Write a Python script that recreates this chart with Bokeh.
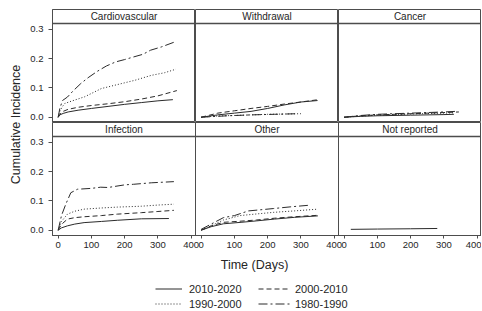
import math
import numpy as np
from bokeh.plotting import figure
from bokeh.models import (Range1d, FixedTicker, PrintfTickFormatter, Span, Label,
                          Legend, LegendItem)
from bokeh.layouts import row, column
from bokeh.embed import file_html
from bokeh.resources import INLINE

# ---------------- data ----------------
DECADES = ["2010-2020", "2000-2010", "1990-2000", "1980-1990"]
X_TICKS = [0, 100, 200, 300, 400]
Y_TICKS = [0.0, 0.1, 0.2, 0.3]

CARDIO_T_2010 = [0, 5, 15, 30, 60, 100, 150, 200, 250, 300, 345]
CARDIO_V_2010 = [0, 0.008, 0.013, 0.018, 0.024, 0.030, 0.037, 0.044, 0.050, 0.056, 0.060]
CARDIO_T_2000 = [0, 5, 15, 30, 60, 100, 150, 200, 250, 300, 357]
CARDIO_V_2000 = [0, 0.010, 0.020, 0.027, 0.034, 0.040, 0.046, 0.053, 0.062, 0.073, 0.091]
CARDIO_T_1990 = [0, 5, 12, 20, 40, 80, 130, 180, 230, 280, 320, 354]
CARDIO_V_1990 = [0, 0.020, 0.035, 0.047, 0.055, 0.070, 0.098, 0.112, 0.126, 0.143, 0.152, 0.164]
CARDIO_T_1980 = [0, 5, 13, 28, 45, 68, 90, 118, 145, 173, 200, 227, 255, 278, 310, 355]
CARDIO_V_1980 = [0, 0.030, 0.057, 0.069, 0.090, 0.115, 0.135, 0.157, 0.175, 0.189, 0.197, 0.206, 0.215, 0.229, 0.240, 0.259]

WITHD_T_2010 = [0, 50, 100, 150, 200, 250, 300, 350]
WITHD_V_2010 = [0, 0.008, 0.014, 0.020, 0.030, 0.042, 0.052, 0.057]
WITHD_T_2000 = [0, 50, 100, 150, 200, 250, 300, 352]
WITHD_V_2000 = [0, 0.014, 0.022, 0.030, 0.037, 0.045, 0.052, 0.060]
WITHD_T_1990 = [0, 40, 100, 150, 200, 250, 300]
WITHD_V_1990 = [0, 0.004, 0.006, 0.008, 0.010, 0.011, 0.012]
WITHD_T_1980 = [0, 80, 150, 220, 290]
WITHD_V_1980 = [0, 0.005, 0.008, 0.010, 0.012]

CANCER_T_2010 = [0, 50, 100, 200, 300, 330]
CANCER_V_2010 = [0, 0.003, 0.005, 0.007, 0.009, 0.010]
CANCER_T_2000 = [0, 50, 100, 200, 300, 345]
CANCER_V_2000 = [0, 0.005, 0.008, 0.012, 0.016, 0.018]
CANCER_T_1990 = [0, 50, 100, 200, 300, 330]
CANCER_V_1990 = [0, 0.004, 0.007, 0.011, 0.014, 0.015]
CANCER_T_1980 = [0, 50, 100, 200, 300, 335]
CANCER_V_1980 = [0, 0.006, 0.010, 0.014, 0.018, 0.020]

INFECT_T_2010 = [0, 10, 28, 50, 78, 130, 178, 250, 333]
INFECT_V_2010 = [0, 0.008, 0.015, 0.021, 0.026, 0.030, 0.034, 0.039, 0.040]
INFECT_T_2000 = [0, 10, 28, 50, 78, 130, 178, 250, 300, 348]
INFECT_V_2000 = [0, 0.020, 0.038, 0.043, 0.046, 0.050, 0.055, 0.060, 0.064, 0.068]
INFECT_T_1990 = [0, 10, 28, 50, 78, 130, 178, 250, 300, 348]
INFECT_V_1990 = [0, 0.030, 0.055, 0.065, 0.072, 0.076, 0.079, 0.082, 0.086, 0.089]
INFECT_T_1980 = [0, 10, 23, 38, 58, 100, 128, 150, 200, 227, 280, 348]
INFECT_V_1980 = [0, 0.050, 0.089, 0.128, 0.140, 0.143, 0.147, 0.146, 0.155, 0.157, 0.162, 0.166]

OTHER_T_2010 = [0, 30, 67, 120, 167, 220, 280, 351]
OTHER_V_2010 = [0, 0.012, 0.022, 0.027, 0.032, 0.038, 0.044, 0.049]
OTHER_T_2000 = [0, 30, 67, 120, 167, 220, 280, 351]
OTHER_V_2000 = [0, 0.015, 0.027, 0.031, 0.035, 0.041, 0.046, 0.051]
OTHER_T_1990 = [0, 30, 67, 117, 170, 217, 280, 351]
OTHER_V_1990 = [0, 0.015, 0.035, 0.050, 0.056, 0.061, 0.066, 0.072]
OTHER_T_1980 = [0, 20, 67, 100, 142, 180, 217, 270, 321]
OTHER_V_1980 = [0.003, 0.015, 0.043, 0.050, 0.066, 0.070, 0.074, 0.080, 0.085]

NOTREP_T_2010 = [20, 100, 200, 280]
NOTREP_V_2010 = [0.003, 0.004, 0.005, 0.006]

PANELS = [
    ("Cardiovascular", {"2010-2020": (CARDIO_T_2010, CARDIO_V_2010),
                        "2000-2010": (CARDIO_T_2000, CARDIO_V_2000),
                        "1990-2000": (CARDIO_T_1990, CARDIO_V_1990),
                        "1980-1990": (CARDIO_T_1980, CARDIO_V_1980)}),
    ("Withdrawal", {"2010-2020": (WITHD_T_2010, WITHD_V_2010),
                    "2000-2010": (WITHD_T_2000, WITHD_V_2000),
                    "1990-2000": (WITHD_T_1990, WITHD_V_1990),
                    "1980-1990": (WITHD_T_1980, WITHD_V_1980)}),
    ("Cancer", {"2010-2020": (CANCER_T_2010, CANCER_V_2010),
                "2000-2010": (CANCER_T_2000, CANCER_V_2000),
                "1990-2000": (CANCER_T_1990, CANCER_V_1990),
                "1980-1990": (CANCER_T_1980, CANCER_V_1980)}),
    ("Infection", {"2010-2020": (INFECT_T_2010, INFECT_V_2010),
                   "2000-2010": (INFECT_T_2000, INFECT_V_2000),
                   "1990-2000": (INFECT_T_1990, INFECT_V_1990),
                   "1980-1990": (INFECT_T_1980, INFECT_V_1980)}),
    ("Other", {"2010-2020": (OTHER_T_2010, OTHER_V_2010),
               "2000-2010": (OTHER_T_2000, OTHER_V_2000),
               "1990-2000": (OTHER_T_1990, OTHER_V_1990),
               "1980-1990": (OTHER_T_1980, OTHER_V_1980)}),
    ("Not reported", {"2010-2020": (NOTREP_T_2010, NOTREP_V_2010)}),
]

# ---------------- style ----------------
FONT = "Liberation Sans"
TEXT_COLOR = "#262626"
LINE_COLOR = "#2b2b2b"
FRAME_COLOR = "#4d4d4d"
DASHES = {"2010-2020": "solid", "2000-2010": "5 3", "1990-2000": "1 2", "1980-1990": "9 3 2 3"}
X_RANGE = (-17, 413)
Y_RANGE = (-0.018, 0.368)
STRIP_BOTTOM = 0.3205
FW, FH = 143, 113
TOP_PAD = 9
LEFT_PAD = 26


def make_panel(title, series, left_axis, bottom_axis, extra_right):
    mbl = 26 if left_axis else 0
    mbb = 17 if bottom_axis else 0
    mbt = 0 if bottom_axis else TOP_PAD
    p = figure(width=FW + mbl + extra_right, height=FH + mbb + mbt,
               x_range=Range1d(*X_RANGE), y_range=Range1d(*Y_RANGE),
               x_axis_location="below" if bottom_axis else None,
               y_axis_location="left" if left_axis else None,
               toolbar_location=None, output_backend="svg", title=None,
               min_border=0, min_border_left=mbl, min_border_right=extra_right,
               min_border_top=mbt, min_border_bottom=mbb)
    if extra_right:
        p.margin = (0, -extra_right, 0, 0)
    p.border_fill_color = None
    p.background_fill_color = None
    p.outline_line_color = FRAME_COLOR
    p.outline_line_width = 1
    p.grid.visible = False

    for dec in DECADES:
        if dec in series:
            t, v = series[dec]
            p.line(t, v, line_color=LINE_COLOR, line_width=1, line_dash=DASHES[dec])

    p.add_layout(Span(location=STRIP_BOTTOM, dimension="width",
                      line_color=FRAME_COLOR, line_width=1.5))
    p.add_layout(Label(x=(X_RANGE[0] + X_RANGE[1]) / 2, y=(STRIP_BOTTOM + Y_RANGE[1]) / 2,
                       text=title, text_align="center", text_baseline="middle",
                       text_font=FONT, text_font_size="10px", text_color=TEXT_COLOR))

    if bottom_axis:
        ax = p.xaxis[0]
        ax.ticker = FixedTicker(ticks=X_TICKS)
        ax.minor_tick_line_color = None
        ax.major_tick_in = 0
        ax.major_tick_out = 3
        ax.major_label_standoff = 3
        ax.major_label_text_font = FONT
        ax.major_label_text_font_size = "9.5px"
        ax.major_label_text_color = TEXT_COLOR
        ax.axis_line_color = FRAME_COLOR
        ax.major_tick_line_color = FRAME_COLOR
    if left_axis:
        ay = p.yaxis[0]
        ay.ticker = FixedTicker(ticks=Y_TICKS)
        ay.formatter = PrintfTickFormatter(format="%.1f")
        ay.minor_tick_line_color = None
        ay.major_tick_in = 0
        ay.major_tick_out = 4
        ay.major_label_standoff = 5
        ay.major_label_text_font = FONT
        ay.major_label_text_font_size = "9.5px"
        ay.major_label_text_color = TEXT_COLOR
        ay.axis_line_color = FRAME_COLOR
        ay.major_tick_line_color = FRAME_COLOR
    return p


def blank_fig(w, h):
    f = figure(width=w, height=h, x_range=Range1d(0, w), y_range=Range1d(0, h),
               x_axis_location=None, y_axis_location=None, toolbar_location=None,
               output_backend="svg", title=None, min_border=0)
    f.grid.visible = False
    f.outline_line_color = None
    f.border_fill_color = None
    f.background_fill_color = None
    return f


OVER = 7
top_figs = [make_panel(PANELS[0][0], PANELS[0][1], True, False, 0),
            make_panel(PANELS[1][0], PANELS[1][1], False, False, 0),
            make_panel(PANELS[2][0], PANELS[2][1], False, False, 0)]
bot_figs = [make_panel(PANELS[3][0], PANELS[3][1], True, True, OVER),
            make_panel(PANELS[4][0], PANELS[4][1], False, True, OVER),
            make_panel(PANELS[5][0], PANELS[5][1], False, True, 0)]

# y-axis title figure
YL_W, YL_H = LEFT_PAD, FH + TOP_PAD + FH + 17
ylab = blank_fig(YL_W, YL_H)
ylab.add_layout(Label(x=15, y=YL_H - 124, text="Cumulative Incidence", angle=math.pi / 2,
                      text_align="center", text_baseline="middle", text_font=FONT,
                      text_font_size="12.5px", text_color=TEXT_COLOR))

# bottom: x title and legend
BW, BH = 481, 59
bot = blank_fig(BW, BH)
bot.add_layout(Label(x=254, y=BH - 12, text="Time (Days)", text_align="center",
                     text_baseline="middle", text_font=FONT, text_font_size="12.5px",
                     text_color=TEXT_COLOR))

NAN2 = np.array([np.nan, np.nan])
dummy = {}
for dec in DECADES:
    dummy[dec] = bot.line(x=NAN2, y=NAN2, line_color=LINE_COLOR, line_width=1,
                          line_dash=DASHES[dec])


def make_legend(decs, loc, gw, standoff):
    lg = Legend(items=[LegendItem(label=d, renderers=[dummy[d]]) for d in decs],
                location=loc, orientation="vertical", padding=0, margin=0, spacing=2,
                glyph_width=gw, glyph_height=13, label_height=13, label_standoff=standoff,
                label_text_font=FONT, label_text_font_size="11px", label_text_color=TEXT_COLOR,
                border_line_color=None, background_fill_color=None, background_fill_alpha=0)
    bot.add_layout(lg, "center")


make_legend(["2010-2020", "1990-2000"], (155, 1), 27, 7)
make_legend(["2000-2010", "1980-1990"], (258, 1), 32, 5)

layout = column(row(ylab, column(row(*top_figs), row(*bot_figs))), bot)

open("out.html", "w").write(file_html(layout, INLINE))
